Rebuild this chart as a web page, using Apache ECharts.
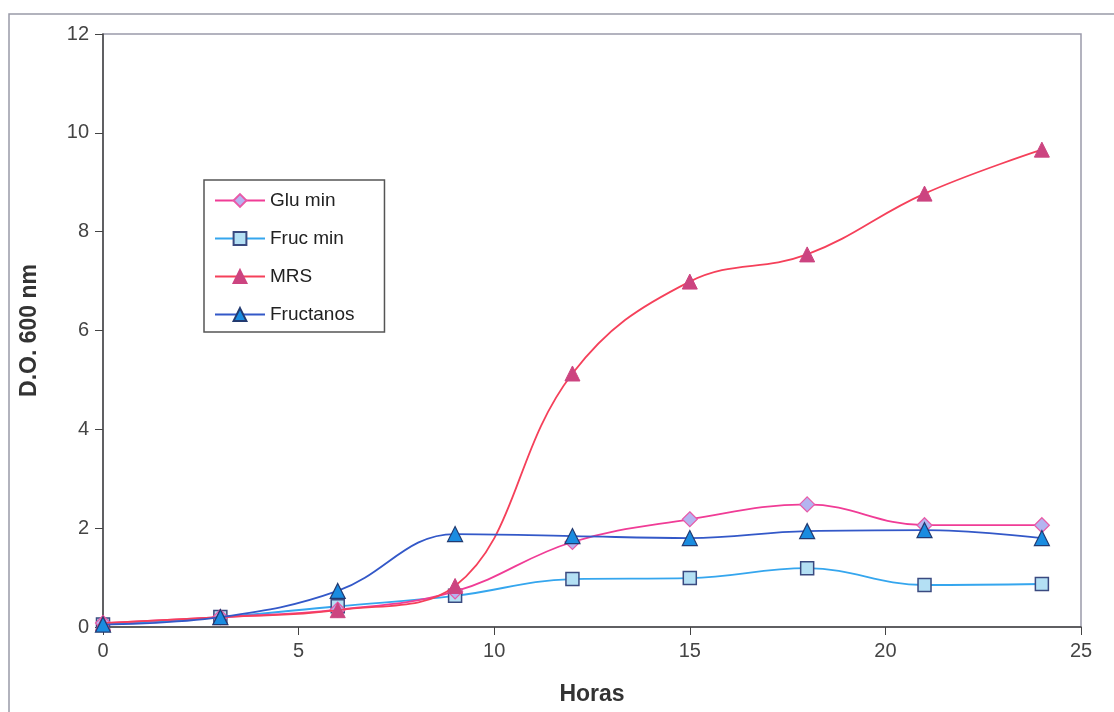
<!DOCTYPE html>
<html><head><meta charset="utf-8">
<script src="https://cdn.jsdelivr.net/npm/echarts@6/dist/echarts.min.js"></script>
<style>html,body{margin:0;padding:0;background:#fff}#c{width:1114px;height:712px}</style>
</head><body><div id="c"></div>
<script>
const hours = [0, 3, 6, 9, 12, 15, 18, 21, 24];
const gluMin = [0.08, 0.2, 0.35, 0.72, 1.72, 2.18, 2.48, 2.06, 2.06];
const frucMin = [0.05, 0.2, 0.42, 0.63, 0.97, 0.99, 1.19, 0.85, 0.87];
const mrs = [0.08, 0.2, 0.34, 0.83, 5.13, 6.99, 7.54, 8.77, 9.66];
const fructanos = [0.05, 0.2, 0.73, 1.88, 1.84, 1.8, 1.94, 1.96, 1.8];
const seriesNames = ['Glu min', 'Fruc min', 'MRS', 'Fructanos'];

const pair = arr => hours.map((h, i) => [h, arr[i]]);
const font = 'Liberation Sans, Arial, sans-serif';

const chart = echarts.init(document.getElementById('c'));
chart.setOption({
  animation: false,
  backgroundColor: '#fff',
  graphic: [{
    type: 'rect', shape: {x: 9, y: 14, width: 1120, height: 720},
    style: {fill: 'none', stroke: '#999aa8', lineWidth: 1.5}, silent: true
  }],
  grid: {left: 103, top: 34, right: 33, bottom: 85, show: true, borderColor: '#9a9aaa', borderWidth: 1.5, backgroundColor: '#fff'},
  legend: {
    orient: 'vertical', left: 204, top: 180,
    itemWidth: 50, itemHeight: 16, itemGap: 19,
    padding: [11, 30, 8, 10],
    borderColor: '#555', borderWidth: 1.5, backgroundColor: '#fff',
    textStyle: {fontFamily: font, fontSize: 19, color: '#222'},
    data: seriesNames
  },
  xAxis: {
    type: 'value', min: 0, max: 25, interval: 5,
    name: 'Horas', nameLocation: 'middle', nameGap: 56,
    nameTextStyle: {fontFamily: font, fontSize: 23, fontWeight: 'bold', color: '#333'},
    axisLine: {lineStyle: {color: '#444', width: 1.5}},
    axisTick: {show: true, length: 8, lineStyle: {color: '#444'}},
    axisLabel: {fontFamily: font, fontSize: 20, color: '#444', margin: 14},
    splitLine: {show: false}
  },
  yAxis: {
    type: 'value', min: 0, max: 12, interval: 2,
    name: 'D.O. 600 nm', nameLocation: 'middle', nameGap: 62, nameRotate: 90,
    nameTextStyle: {fontFamily: font, fontSize: 23, fontWeight: 'bold', color: '#333'},
    axisLine: {show: true, lineStyle: {color: '#444', width: 1.5}},
    axisTick: {show: true, length: 8, lineStyle: {color: '#444'}},
    axisLabel: {fontFamily: font, fontSize: 20, color: '#444', margin: 14},
    splitLine: {show: false}
  },
  series: [
    {name: 'Glu min', type: 'line', smooth: 0.4, data: pair(gluMin), z: 3,
      symbol: 'diamond', symbolSize: 15,
      lineStyle: {color: '#f03c96', width: 1.8},
      itemStyle: {color: '#b4b4f0', borderColor: '#e85aa8', borderWidth: 1.2}},
    {name: 'Fruc min', type: 'line', smooth: 0.4, data: pair(frucMin), z: 2,
      symbol: 'rect', symbolSize: 13,
      lineStyle: {color: '#35a6ee', width: 1.8},
      itemStyle: {color: '#b4e0f4', borderColor: '#3a4a80', borderWidth: 1.5}},
    {name: 'MRS', type: 'line', smooth: 0.4, data: pair(mrs), z: 4,
      symbol: 'triangle', symbolSize: 15,
      lineStyle: {color: '#f5405a', width: 1.8},
      itemStyle: {color: '#cc4480', borderColor: '#cc4480', borderWidth: 1}},
    {name: 'Fructanos', type: 'line', smooth: 0.4, data: pair(fructanos), z: 5,
      symbol: 'triangle', symbolSize: 15,
      lineStyle: {color: '#3358c8', width: 1.8},
      itemStyle: {color: '#1a8ce0', borderColor: '#223a70', borderWidth: 1.2}}
  ]
});
</script></body></html>
